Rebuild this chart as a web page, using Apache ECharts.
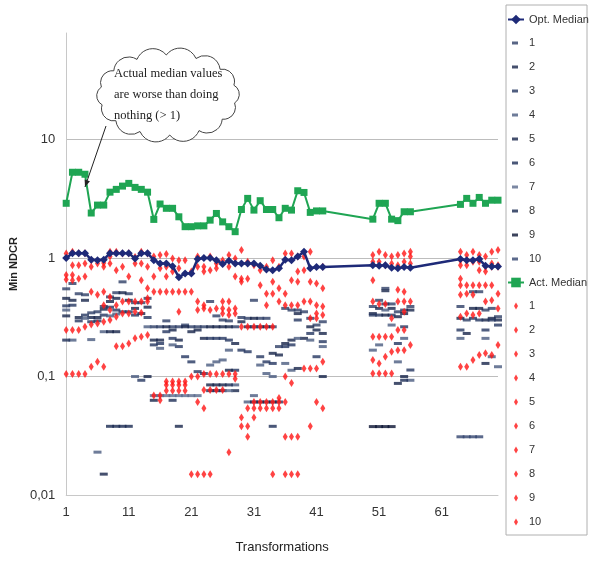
<!DOCTYPE html>
<html>
<head>
<meta charset="utf-8">
<script src="https://cdn.jsdelivr.net/npm/echarts@6/dist/echarts.min.js"></script>
<style>
  html, body { margin: 0; padding: 0; background: #fff; }
  #chart { width: 591px; height: 566px; }
</style>
</head>
<body>
<div id="chart"></div>
<script>
// ---- data -------------------------------------------------------------
const _ = null;

// transformation numbers 1..70 (43-49 and 57-63 have no results)
const transformations = Array.from({ length: 70 }, (v, i) => String(i + 1));

const yTickValues = [0.01, 0.1, 1, 10];
const yTickLabels = ['0,01', '0,1', '1', '10'];

const optMedian = [
  1.0, 1.1, 1.1, 1.1, 0.97, 0.96, 0.97, 1.1, 1.1, 1.1,
  1.1, 0.99, 1.1, 1.1, 0.96, 0.9, 0.9, 0.855, 0.69, 0.74,
  0.74, 0.98, 1.0, 1.0, 0.96, 0.89, 0.95, 0.9, 0.9, 0.9,
  0.9, 0.86, 0.8, 0.79, 0.82, 0.97, 0.96, 1.03, 1.13, 0.82,
  0.84, 0.84, _, _, _, _, _, _, _, 0.87,
  0.86, 0.87, 0.83, 0.82, 0.84, 0.83, _, _, _, _,
  _, _, _, 0.98, 0.96, 0.96, 0.98, 0.86, 0.85, 0.85
];

const actMedian = [
  2.9, 5.3, 5.3, 5.1, 2.4, 2.8, 2.8, 3.6, 3.8, 4.05,
  4.27, 3.95, 3.8, 3.6, 2.12, 2.86, 2.63, 2.63, 2.23, 1.84,
  1.84, 1.87, 1.87, 2.09, 2.38, 2.02, 1.84, 1.67, 2.57, 3.19,
  2.54, 3.05, 2.57, 2.57, 2.19, 2.63, 2.54, 3.7, 3.58, 2.43,
  2.5, 2.5, _, _, _, _, _, _, _, 2.13,
  2.9, 2.9, 2.13, 2.07, 2.46, 2.46, _, _, _, _,
  _, _, _, 2.84, 3.19, 2.9, 3.25, 2.9, 3.08, 3.08
];

// optimal min NDCR, runs 1..10
const opt1 = [
  0.55, 0.61, 0.50, 0.49, 0.345, 0.352, 0.39, 0.47, 0.51, 0.63,
  0.50, 0.42, 0.42, 0.457, 0.263, 0.263, 0.295, 0.263, 0.263, 0.272,
  0.263, 0.263, 0.263, 0.43, 0.325, 0.30, 0.295, 0.263, 0.315, 0.31,
  0.44, 0.31, 0.31, 0.263, 0.179, 0.376, 0.364, 0.364, 0.352, 0.31,
  0.272, 0.29, _, _, _, _, _, _, _, 0.39,
  0.44, 0.555, 0.41, 0.352, 0.364, 0.39, _, _, _, _,
  _, _, _, 0.39, 0.30, 0.52, 0.52, 0.364, 0.376, 0.32
];
const opt2 = [
  0.457, 0.44, 0.315, 0.44, 0.315, 0.315, 0.37, 0.43, 0.457, 0.51,
  0.44, 0.376, 0.34, 0.385, 0.203, 0.203, 0.263, 0.247, 0.203, 0.263,
  0.239, 0.247, 0.21, 0.263, 0.263, 0.263, 0.263, 0.19, 0.29, 0.263,
  0.31, 0.263, 0.263, 0.157, 0.152, 0.19, 0.203, 0.34, 0.21, 0.263,
  0.247, 0.231, _, _, _, _, _, _, _, 0.34,
  0.376, 0.53, 0.376, 0.32, 0.34, 0.364, _, _, _, _,
  _, _, _, 0.31, 0.231, 0.376, 0.376, 0.30, 0.31, 0.30
];
const opt3 = [
  0.395, 0.40, 0.295, 0.33, 0.29, 0.295, 0.33, 0.385, 0.364, 0.352,
  0.352, 0.33, 0.093, 0.315, 0.185, 0.19, 0.239, 0.21, 0.179, 0.147,
  0.133, 0.11, 0.106, 0.21, 0.21, 0.21, 0.203, 0.113, 0.167, 0.162,
  0.263, 0.147, 0.133, 0.129, 0.061, 0.179, 0.185, 0.30, _, 0.231,
  0.147, 0.197, _, _, _, _, _, _, _, 0.33,
  0.33, 0.41, 0.33, 0.19, 0.263, 0.1135, _, _, _, _,
  _, _, _, 0.247, _, 0.31, 0.30, 0.247, 0.30, 0.272
];
const opt4 = [
  0.364, 0.203, _, 0.31, 0.205, 0.023, 0.239, 0.325, 0.337, _,
  _, 0.1, _, 0.263, _, 0.173, _, 0.185, _, _,
  _, _, _, 0.125, 0.133, 0.138, 0.167, 0.085, _, 0.061,
  0.069, 0.125, 0.106, 0.1, _, 0.129, 0.113, 0.21, _, 0.203,
  _, 0.179, _, _, _, _, _, _, _, 0.167,
  0.185, 0.364, 0.272, 0.133, 0.21, 0.093, _, _, _, _,
  _, _, _, 0.21, _, _, _, 0.21, 0.147, 0.121
];
const opt5 = [
  0.325, _, _, _, _, _, 0.015, 0.239, 0.239, _,
  _, _, _, 0.1, 0.063, _, _, _, 0.038, _,
  _, _, _, 0.085, 0.085, 0.085, 0.113, 0.076, _, _,
  0.061, 0.061, 0.061, 0.061, _, _, _, 0.117, _, _,
  _, 0.1, _, _, _, _, _, _, _, _,
  _, 0.33, _, 0.0875, 0.1, _, _, _, _, _,
  _, _, _, _, _, _, _, 0.129, _, _
];
const opt6 = [
  0.203, _, _, _, _, _, _, _, _, _,
  _, _, _, _, _, _, _, 0.063, _, _,
  _, _, _, 0.076, 0.076, 0.076, 0.085, _, _, _,
  _, _, _, 0.038, _, _, _, _, _, _,
  _, _, _, _, _, _, _, _, _, _,
  _, _, _, _, 0.093, _, _, _, _, _,
  _, _, _, _, _, _, _, _, _, _
];
const opt7 = [
  _, _, _, _, _, _, _, _, _, _,
  _, _, _, _, 0.069, 0.069, 0.069, 0.069, 0.069, 0.069,
  0.069, 0.069, _, _, _, _, 0.076, _, _, _,
  _, _, _, _, _, _, _, _, _, _,
  _, _, _, _, _, _, _, _, _, _,
  _, _, _, _, _, _, _, _, _, _,
  _, _, _, _, _, _, _, _, _, _
];
const opt8 = [
  _, _, _, _, _, _, _, 0.038, 0.038, 0.038,
  0.038, _, _, _, _, _, _, _, _, _,
  _, _, _, _, _, _, _, _, _, _,
  _, _, _, _, _, _, _, _, _, _,
  _, _, _, _, _, _, _, _, _, _,
  _, _, _, _, _, _, _, _, _, _,
  _, _, _, _, _, _, _, _, _, _
];
const opt9 = [
  _, _, _, _, _, _, _, _, _, _,
  _, _, _, _, _, _, _, _, _, _,
  _, _, _, _, _, _, _, _, _, _,
  _, _, _, _, _, _, _, _, _, _,
  _, _, _, _, _, _, _, _, _, 0.0378,
  0.0378, 0.0378, 0.0378, _, _, _, _, _, _, _,
  _, _, _, _, _, _, _, _, _, _
];
const opt10 = [
  _, _, _, _, _, _, _, _, _, _,
  _, _, _, _, _, _, _, _, _, _,
  _, _, _, _, _, _, _, _, _, _,
  _, _, _, _, _, _, _, _, _, _,
  _, _, _, _, _, _, _, _, _, _,
  _, _, _, _, _, _, _, _, _, _,
  _, _, _, 0.031, 0.031, 0.031, 0.031, _, _, _
];

// actual min NDCR, runs 1..10
const act1 = [
  1.095, 1.13, 1.1, 1.1, 0.96, 0.9, 0.91, 1.13, 1.13, 1.095,
  1.1, 1.02, 1.13, 1.095, 1.03, 1.06, 1.08, 0.99, 0.96, 0.96,
  0.77, 1.03, 0.845, 1.03, 0.9, 0.96, 1.06, 0.99, 1.17, 0.93,
  0.87, 0.79, 0.845, 0.96, 0.845, 1.095, 1.095, 1.03, 1.03, 1.13,
  0.61, 0.845, _, _, _, _, _, _, _, 1.06,
  1.13, 1.06, 1.03, 1.06, 1.095, 1.13, _, _, _, _,
  _, _, _, 1.13, 1.06, 1.13, 1.06, 1.03, 1.13, 1.17
];
const act2 = [
  0.72, 0.87, 0.87, 0.9, 0.845, 0.49, 0.845, 1.03, 0.79, 0.845,
  0.70, 0.9, 0.9, 0.845, 0.70, 0.82, 0.845, 0.845, 0.82, 0.52,
  0.52, 0.845, 0.77, 0.79, 0.82, 0.43, 0.845, 0.70, 0.67, 0.67,
  0.263, 0.59, 0.50, 0.63, 0.555, 0.50, 0.65, 0.77, 0.79, 0.63,
  0.40, 0.555, _, _, _, _, _, _, _, 0.93,
  0.93, 0.87, 0.9, 0.87, 0.93, 1.03, _, _, _, _,
  _, _, _, 0.96, 0.96, 0.93, 0.93, 0.845, 0.9, 0.87
];
const act3 = [
  0.66, 0.72, 0.67, 0.70, 0.52, 0.28, 0.52, 0.9, 0.40, 0.43,
  0.43, 0.43, 0.65, 0.555, 0.52, 0.52, 0.70, 0.77, 0.52, 0.091,
  0.1, 0.43, 0.40, 0.364, 0.376, 0.376, 0.43, 0.376, 0.63, 0.263,
  0.061, 0.263, 0.40, 0.50, 0.43, 0.40, 0.40, 0.63, 0.43, 0.43,
  0.34, 0.39, _, _, _, _, _, _, _, 0.65,
  0.41, 0.41, 0.31, 0.54, 0.52, 0.9, _, _, _, _,
  _, _, _, 0.87, 0.87, 0.59, 0.79, 0.77, 0.845, 0.845
];
const act4 = [
  0.247, 0.65, 0.247, 0.263, 0.275, 0.133, 0.40, 0.47, 0.32, 0.34,
  0.34, 0.352, 0.43, 0.457, 0.069, 0.069, 0.52, 0.52, 0.352, 0.085,
  _, 0.364, 0.376, 0.105, 0.105, 0.34, 0.364, 0.34, 0.263, 0.054,
  0.054, 0.061, 0.263, 0.263, 0.066, 0.1, 0.088, 0.40, 0.117, 0.31,
  0.31, 0.33, _, _, _, _, _, _, _, 0.43,
  0.217, 0.217, 0.217, 0.43, 0.43, 0.43, _, _, _, _,
  _, _, _, 0.67, 0.59, 0.49, 0.59, 0.59, 0.59, 0.50
];
const act5 = [
  _, 0.247, _, _, 0.121, _, 0.29, 0.364, 0.18, 0.18,
  0.19, 0.21, 0.345, 0.43, _, 0.063, 0.091, 0.091, 0.091, 0.076,
  _, 0.1, 0.105, 0.077, 0.077, 0.105, 0.33, 0.105, 0.045, 0.038,
  0.045, 0.054, 0.061, 0.061, 0.061, 0.061, _, _, _, 0.117,
  0.117, 0.133, _, _, _, _, _, _, _, 0.217,
  0.129, 0.147, 0.162, 0.247, 0.352, 0.185, _, _, _, _,
  _, _, _, 0.59, 0.50, 0.33, 0.34, 0.43, 0.44, 0.376
];
const act6 = [
  _, _, _, _, _, _, 0.121, 0.30, _, _,
  _, _, 0.217, 0.224, _, _, 0.085, 0.085, 0.085, _,
  _, 0.061, 0.077, _, _, 0.077, 0.105, 0.096, 0.038, _,
  _, _, 0.054, 0.054, 0.054, _, _, _, _, 0.038,
  0.061, 0.054, _, _, _, _, _, _, _, 0.138,
  0.106, 0.106, 0.106, 0.167, 0.247, _, _, _, _, _,
  _, _, _, 0.49, 0.34, 0.138, 0.152, 0.157, 0.152, 0.185
];
const act7 = [
  _, _, _, _, _, _, _, _, _, _,
  _, _, _, _, _, _, 0.076, 0.076, 0.076, _,
  _, _, 0.054, _, _, _, 0.023, _, _, _,
  _, _, _, _, _, _, _, _, _, _,
  _, _, _, _, _, _, _, _, _, 0.106,
  _, _, _, _, 0.167, _, _, _, _, _,
  _, _, _, 0.32, 0.121, _, _, _, _, _
];
const act8 = [
  0.105, 0.105, 0.105, 0.105, _, _, _, _, _, _,
  _, _, _, _, _, _, _, _, _, _,
  _, _, _, _, _, _, _, _, _, _,
  _, _, _, _, _, _, _, _, _, _,
  _, _, _, _, _, _, _, _, _, _,
  _, _, _, _, _, _, _, _, _, _,
  _, _, _, 0.121, _, _, _, _, _, _
];
const act9 = [
  _, _, _, _, _, _, _, _, _, _,
  _, _, _, _, _, _, _, _, _, _,
  _, _, _, _, _, _, _, _, _, 0.031,
  _, _, _, _, _, 0.031, 0.031, 0.031, _, _,
  _, _, _, _, _, _, _, _, _, _,
  _, _, _, _, _, _, _, _, _, _,
  _, _, _, _, _, _, _, _, _, _
];
const act10 = [
  _, _, _, _, _, _, _, _, _, _,
  _, _, _, _, _, _, _, _, _, _,
  0.015, 0.015, 0.015, 0.015, _, _, _, _, _, _,
  _, _, _, 0.015, _, 0.015, 0.015, 0.015, _, _,
  _, _, _, _, _, _, _, _, _, _,
  _, _, _, _, _, _, _, _, _, _,
  _, _, _, _, _, _, _, _, _, _
];

const optRuns = [opt1, opt2, opt3, opt4, opt5, opt6, opt7, opt8, opt9, opt10];
const actRuns = [act1, act2, act3, act4, act5, act6, act7, act8, act9, act10];

// ---- styling ----------------------------------------------------------
const FONT = "'Liberation Sans', Arial, sans-serif";
const NAVY = '#1e2a78';
const GREEN = '#1fa553';
const RED = '#ff1414';
const optColors = ['#2e3f66', '#16244a', '#243660', '#4a5b80', '#16244a',
                   '#1d2d56', '#5a6a8c', '#182850', '#0b1433', '#33456f'];

// legend glyphs padded inside a 16x12 box
const DASH_ICON = 'path://M0,0M16,12M4,4.5H10V7.5H4Z';
const DIAMOND_ICON = 'path://M0,0M16,12M8,2.5L10,6L8,9.5L6,6Z';

const series = [];
series.push({
  name: 'Opt. Median', type: 'line', data: optMedian, connectNulls: true,
  symbol: 'diamond', symbolSize: 8, showAllSymbol: true,
  lineStyle: { color: NAVY, width: 2.5 }, itemStyle: { color: NAVY }
});
optRuns.forEach((d, i) => series.push({
  name: 'opt' + (i + 1), type: 'scatter', data: d,
  symbol: 'rect', symbolSize: [8, 3], itemStyle: { color: optColors[i] }
}));
series.push({
  name: 'Act. Median', type: 'line', data: actMedian, connectNulls: true,
  symbol: 'rect', symbolSize: 7, showAllSymbol: true,
  lineStyle: { color: GREEN, width: 2 }, itemStyle: { color: GREEN }
});
actRuns.forEach((d, i) => series.push({
  name: 'act' + (i + 1), type: 'scatter', data: d,
  symbol: 'diamond', symbolSize: [5, 8], itemStyle: { color: RED }
}));

const legendData = [{ name: 'Opt. Median' }]
  .concat(optRuns.map((d, i) => ({ name: 'opt' + (i + 1), icon: DASH_ICON })))
  .concat([{ name: 'Act. Median' }])
  .concat(actRuns.map((d, i) => ({ name: 'act' + (i + 1), icon: DIAMOND_ICON })));

// callout cloud outline: scalloped ellipse
function cloudPath(cx, cy, rx, ry, n) {
  const pts = [];
  for (let i = 0; i < n; i++) {
    const a = i / n * Math.PI * 2 + 0.2;
    pts.push([cx + rx * Math.cos(a), cy + ry * Math.sin(a)]);
  }
  let d = 'M' + pts[0][0].toFixed(1) + ',' + pts[0][1].toFixed(1);
  for (let i = 0; i < n; i++) {
    const q = pts[i], p = pts[(i + 1) % n];
    const r = Math.hypot(p[0] - q[0], p[1] - q[1]) * 0.58;
    d += ' A' + r.toFixed(1) + ',' + r.toFixed(1) + ' 0 0 1 ' + p[0].toFixed(1) + ',' + p[1].toFixed(1);
  }
  return d + ' Z';
}
echarts.graphic.registerShape('calloutCloud', echarts.graphic.extendPath(cloudPath(168, 95, 68, 40, 14), {}));

function arrowHead(x0, y0, x1, y1, len, half) {
  const dx = x1 - x0, dy = y1 - y0, L = Math.hypot(dx, dy);
  const ux = dx / L, uy = dy / L, px = -uy, py = ux;
  const bx = x1 - ux * len, by = y1 - uy * len;
  return [[x1, y1], [bx + px * half, by + py * half], [bx - px * half, by - py * half]];
}

const option = {
  animation: false,
  backgroundColor: '#fff',
  grid: { left: 62, right: 93, top: 33, bottom: 71, containLabel: false },
  xAxis: {
    type: 'category', data: transformations, boundaryGap: false,
    axisLine: { lineStyle: { color: '#c8c8c8' } },
    axisTick: { show: false },
    axisLabel: { interval: 9, margin: 11, fontSize: 13, color: '#333', fontFamily: FONT },
    splitLine: { show: false },
    name: 'Transformations', nameLocation: 'middle', nameGap: 46,
    nameTextStyle: { fontSize: 13, color: '#222', fontFamily: FONT }
  },
  yAxis: {
    type: 'log', logBase: 10, min: 0.01, max: 79.4,
    axisLine: { show: true, lineStyle: { color: '#c8c8c8' } },
    axisTick: { show: false },
    splitLine: { show: true, showMinLine: false, showMaxLine: false, lineStyle: { color: '#bdbdbd' } },
    axisLabel: {
      margin: 11, fontSize: 13, color: '#333', fontFamily: FONT, showMaxLabel: false,
      formatter: v => {
        const i = yTickValues.findIndex(t => Math.abs(t - v) / t < 1e-6);
        return i >= 0 ? yTickLabels[i] : '';
      }
    },
    name: 'Min NDCR', nameLocation: 'middle', nameRotate: 90, nameGap: 42,
    nameTextStyle: { fontSize: 11, fontWeight: 'bold', color: '#222', fontFamily: FONT }
  },
  legend: {
    orient: 'vertical', left: 507, top: 14, padding: 0,
    itemWidth: 16, itemHeight: 12, itemGap: 12, itemTextGap: 2,
    textStyle: { fontFamily: FONT, fontSize: 11, color: '#333' },
    formatter: n => n.replace(/^(opt|act)/, ''),
    data: legendData
  },
  graphic: [
    { type: 'rect', shape: { x: 506, y: 5, width: 81, height: 530 },
      style: { fill: 'none', stroke: '#b0b0b0', lineWidth: 1 }, silent: true },
    { type: 'calloutCloud', z: 100,
      style: { fill: '#fff', stroke: '#444', lineWidth: 1 } },
    { type: 'text', x: 114, y: 63, z: 101,
      style: { text: 'Actual median values\nare worse than doing\nnothing (> 1)',
               font: "12.5px 'Liberation Serif', serif", lineHeight: 21, fill: '#222' } },
    { type: 'line', z: 100, shape: { x1: 106, y1: 126, x2: 85, y2: 187 },
      style: { stroke: '#222', lineWidth: 1 } },
    { type: 'polygon', z: 100, shape: { points: arrowHead(106, 126, 85, 187, 7, 2.8) },
      style: { fill: '#222' } }
  ],
  series
};

const chart = echarts.init(document.getElementById('chart'), null, { renderer: 'canvas' });
chart.setOption(option);
</script>
</body>
</html>
